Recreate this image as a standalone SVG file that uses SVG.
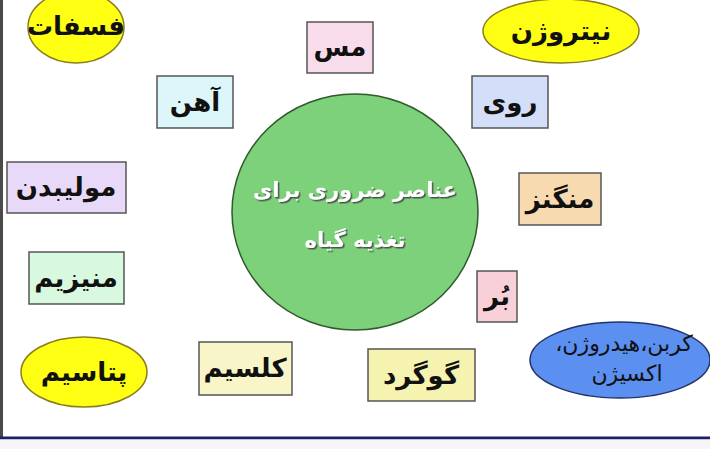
<svg xmlns="http://www.w3.org/2000/svg" width="710" height="449" viewBox="0 0 710 449">
<defs>
<filter id="sh" x="-10%" y="-30%" width="120%" height="160%">
<feDropShadow dx="1.5" dy="1.5" stdDeviation="0.6" flood-color="#444" flood-opacity="0.9"/>
</filter>
</defs>
<style>
.box{stroke:#555;stroke-width:1.5}
.yel{fill:#ffff14;stroke:#8a7d20;stroke-width:1.5}
text{direction:rtl;unicode-bidi:embed}
.t{font-family:"DejaVu Sans",sans-serif;font-weight:bold;font-size:26px;fill:#111;text-anchor:middle}
.c{font-family:"DejaVu Sans",sans-serif;font-weight:bold;font-size:21px;fill:#ffffff;text-anchor:middle;filter:url(#sh)}
.k{font-family:"DejaVu Sans",sans-serif;font-size:22px;fill:#111;text-anchor:middle}
</style>
<rect x="0" y="0" width="710" height="449" fill="#ffffff"/>
<rect x="0" y="0" width="3" height="438" fill="#4a4a4a"/>
<rect x="0" y="436.5" width="710" height="3" fill="#1c1f6b"/>
<rect x="0" y="439.5" width="710" height="10" fill="#f6f6f8"/>
<g id="connectors"></g>
<g id="center">
<ellipse cx="355" cy="212" rx="123" ry="118" fill="#7dd17b" stroke="#2f5a2a" stroke-width="1.5"/>
<text class="c" x="355" y="197">عناصر ضروری برای</text>
<text class="c" x="355" y="247">تغذیه گیاه</text>
</g>
<g id="phosphate">
<ellipse class="yel" cx="76" cy="27" rx="48" ry="36"/>
<text class="t" x="76" y="35">فسفات</text>
</g>
<g id="nitrogen">
<ellipse class="yel" cx="561" cy="31" rx="78" ry="32"/>
<text class="t" x="561" y="40">نیتروژن</text>
</g>
<g id="copper">
<rect class="box" x="307" y="22" width="66" height="51" fill="#f9dcec"/>
<text class="t" x="340" y="56">مس</text>
</g>
<g id="iron">
<rect class="box" x="157" y="76" width="76" height="52" fill="#dcf6f9"/>
<text class="t" x="195" y="111">آهن</text>
</g>
<g id="zinc">
<rect class="box" x="472" y="76" width="76" height="52" fill="#d3def8"/>
<text class="t" x="510" y="111">روی</text>
</g>
<g id="molybdenum">
<rect class="box" x="7" y="162" width="119" height="51" fill="#e8d9f8"/>
<text class="t" x="66" y="196">مولیبدن</text>
</g>
<g id="manganese">
<rect class="box" x="519" y="173" width="82" height="52" fill="#f8dab0"/>
<text class="t" x="560" y="208">منگنز</text>
</g>
<g id="magnesium">
<rect class="box" x="29" y="252" width="95" height="52" fill="#d8f8e0"/>
<text class="t" x="76" y="287">منیزیم</text>
</g>
<g id="boron">
<rect class="box" x="477" y="271" width="40" height="51" fill="#f8d0d8"/>
<text class="t" x="497" y="305">بُر</text>
</g>
<g id="potassium">
<ellipse class="yel" cx="84" cy="372" rx="63" ry="35"/>
<text class="t" x="84" y="381">پتاسیم</text>
</g>
<g id="calcium">
<rect class="box" x="199" y="342" width="93" height="53" fill="#f8f6c8"/>
<text class="t" x="245" y="377">کلسیم</text>
</g>
<g id="sulfur">
<rect class="box" x="368" y="349" width="107" height="52" fill="#f6f2b0"/>
<text class="t" x="421" y="384">گوگرد</text>
</g>
<g id="cho">
<ellipse cx="620" cy="360" rx="90" ry="38" fill="#5b8ff0" stroke="#223366" stroke-width="1.5"/>
<text class="k" x="624" y="351">کربن،هیدروژن،</text>
<text class="k" x="627" y="381">اکسیژن</text>
</g>
</svg>
